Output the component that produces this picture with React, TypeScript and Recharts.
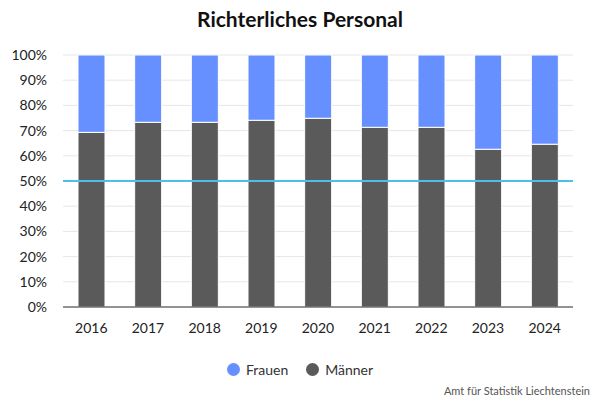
import React from "react";
import { Bar, BarChart, CartesianGrid, ReferenceLine, XAxis, YAxis } from "recharts";

const years = ["2016", "2017", "2018", "2019", "2020", "2021", "2022", "2023", "2024"];
const maenner = [69.3, 73.3, 73.3, 74.1, 74.9, 71.3, 71.3, 62.6, 64.6];
const frauen = maenner.map((m) => 100 - m);
const yTicks = [0, 10, 20, 30, 40, 50, 60, 70, 80, 90, 100];

const data = years.map((year, i) => ({ year, maenner: maenner[i], frauen: frauen[i] }));

const FONT = "Lato, 'Open Sans', sans-serif";
const COLOR_F = "#6690ff";
const COLOR_M = "#5a5a5a";

const legendItems = [
    { label: "Frauen", color: COLOR_F },
    { label: "Männer", color: COLOR_M },
];

export default function App() {
    return (
        <div style={{ position: "absolute", top: 0, left: 0, width: 600, height: 400, background: "#fff", fontFamily: FONT }}>
            <div style={{ position: "absolute", top: 6, width: 600, textAlign: "center", fontSize: 21, fontWeight: 700, color: "#111" }}>
                Richterliches Personal
            </div>
            <BarChart
                width={600}
                height={400}
                data={data}
                margin={{ top: 55, right: 27, left: 0, bottom: 63 }}
                barSize={27}
            >
                <CartesianGrid vertical={false} stroke="#e6e6e6" />
                <XAxis
                    dataKey="year"
                    tickLine={false}
                    axisLine={{ stroke: "#333" }}
                    tick={{ fill: "#222", fontSize: 14, fontFamily: FONT }}
                    dy={8}
                    height={30}
                />
                <YAxis
                    width={63}
                    domain={[0, 100]}
                    ticks={yTicks}
                    interval={0}
                    tickFormatter={(v) => `${v}%`}
                    axisLine={false}
                    tickLine={false}
                    tick={{ fill: "#222", fontSize: 14, fontFamily: FONT }}
                    dx={-8}
                />
                <Bar dataKey="maenner" stackId="a" fill={COLOR_M} stroke="#fff" strokeWidth={1} isAnimationActive={false} />
                <Bar dataKey="frauen" stackId="a" fill={COLOR_F} stroke="#fff" strokeWidth={1} isAnimationActive={false} />
                <ReferenceLine y={50} stroke="#4cc0ea" strokeWidth={2} />
            </BarChart>
            <div style={{ position: "absolute", top: 361, width: 600, display: "flex", justifyContent: "center", gap: 18, fontSize: 14, color: "#333" }}>
                {legendItems.map((it) => (
                    <div key={it.label} style={{ display: "flex", alignItems: "center", gap: 6 }}>
                        <span style={{ width: 13, height: 13, borderRadius: "50%", background: it.color, display: "inline-block" }} />
                        <span>{it.label}</span>
                    </div>
                ))}
            </div>
            <div style={{ position: "absolute", right: 10, top: 384, fontSize: 11, color: "#555" }}>
                Amt für Statistik Liechtenstein
            </div>
        </div>
    );
}
